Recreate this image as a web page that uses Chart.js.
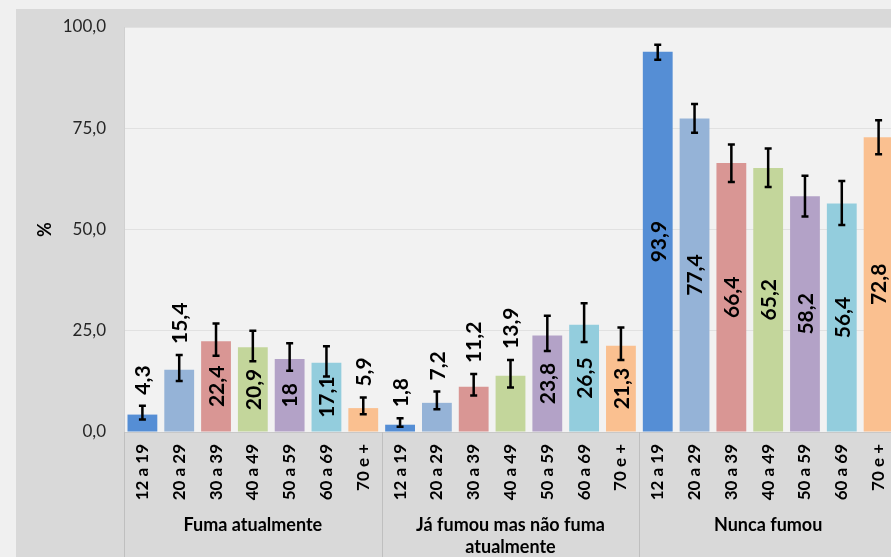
<!DOCTYPE html>
<html>
<head>
<meta charset="utf-8">
<script src="https://cdn.jsdelivr.net/npm/chart.js@4"></script>
<style>
  html, body { margin: 0; padding: 0; background: #f0f0f0; overflow: hidden; width: 891px; height: 557px; }
  #panel { position: absolute; left: 16px; top: 9px; width: 881px; height: 548px; background: #d9d9d9; }
</style>
</head>
<body>
<div id="panel"><canvas id="smokeChart" width="881" height="548"></canvas></div>
<script>
const ages = ['12 a 19', '20 a 29', '30 a 39', '40 a 49', '50 a 59', '60 a 69', '70 e +'];
const groups = ['Fuma atualmente', ['Já fumou mas não fuma', 'atualmente'], 'Nunca fumou'];
const yTicks = [0, 25, 50, 75, 100];

const fumaValues = [4.3, 15.4, 22.4, 20.9, 18, 17.1, 5.9];
const fumaLow = [3.1, 12.6, 18.8, 17.5, 15.1, 13.7, 4.4];
const fumaHigh = [6.5, 19.0, 26.8, 25.0, 21.9, 21.2, 8.5];

const jaValues = [1.8, 7.2, 11.2, 13.9, 23.8, 26.5, 21.3];
const jaLow = [1.3, 5.6, 9.0, 11.0, 20.0, 22.2, 17.8];
const jaHigh = [3.4, 10.0, 14.3, 17.8, 28.7, 31.8, 25.8];

const nuncaValues = [93.9, 77.4, 66.4, 65.2, 58.2, 56.4, 72.8];
const nuncaLow = [91.9, 73.9, 61.7, 60.5, 53.2, 51.1, 68.6];
const nuncaHigh = [95.6, 81.0, 71.0, 70.0, 63.3, 62.0, 77.0];

const ageColors = ['#558ed5', '#95b3d7', '#d99694', '#c3d69b', '#b3a2c7', '#93cddd', '#fac090'];

const labels = [].concat(ages, ages, ages);
const values = [].concat(fumaValues, jaValues, nuncaValues);
const lows = [].concat(fumaLow, jaLow, nuncaLow);
const highs = [].concat(fumaHigh, jaHigh, nuncaHigh);
const colors = [].concat(ageColors, ageColors, ageColors);

const fmt = v => String(v).replace('.', ',');

const plotBg = {
    id: 'plotBg',
    beforeDraw(chart) {
        const a = chart.chartArea, ctx = chart.ctx;
        ctx.save();
        ctx.fillStyle = '#f2f2f2';
        ctx.fillRect(a.left, a.top, a.right - a.left, a.bottom - a.top);
        ctx.restore();
    }
};

const errorBars = {
    id: 'errorBars',
    afterDatasetsDraw(chart) {
        const ctx = chart.ctx;
        const meta = chart.getDatasetMeta(0);
        const y = chart.scales.y;
        ctx.save();
        ctx.strokeStyle = '#000';
        ctx.lineWidth = 2.5;
        meta.data.forEach((bar, i) => {
            const top = y.getPixelForValue(highs[i]);
            const bot = y.getPixelForValue(lows[i]);
            ctx.beginPath();
            ctx.moveTo(bar.x, top); ctx.lineTo(bar.x, bot);
            ctx.moveTo(bar.x - 3.5, top); ctx.lineTo(bar.x + 3.5, top);
            ctx.moveTo(bar.x - 3.5, bot); ctx.lineTo(bar.x + 3.5, bot);
            ctx.stroke();
        });
        // value labels
        ctx.fillStyle = '#000';
        ctx.font = 'bold 21px Lato';
        ctx.textBaseline = 'middle';
        meta.data.forEach((bar, i) => {
            ctx.save();
            if (values[i] >= 17) {
                ctx.translate(bar.x + 1, (bar.y + bar.base) / 2);
                ctx.rotate(-Math.PI / 2);
                ctx.textAlign = 'center';
                ctx.fillText(fmt(values[i]), 0, 0);
            } else {
                ctx.translate(bar.x + 1, y.getPixelForValue(highs[i]) - 11);
                ctx.rotate(-Math.PI / 2);
                ctx.textAlign = 'left';
                ctx.fillText(fmt(values[i]), 0, 0);
            }
            ctx.restore();
        });
        ctx.restore();
    }
};

const groupAxis = {
    id: 'groupAxis',
    afterDraw(chart) {
        const ctx = chart.ctx;
        const x = chart.scales.x;
        const n = ages.length;
        const step = x.getPixelForValue(1) - x.getPixelForValue(0);
        ctx.save();
        ctx.strokeStyle = '#bfbfbf';
        ctx.lineWidth = 1;
        for (let g = 0; g <= groups.length; g++) {
            const px = Math.round(x.getPixelForValue(g * n) - step / 2) + 0.5;
            ctx.beginPath();
            ctx.moveTo(px, x.top);
            ctx.lineTo(px, x.bottom);
            ctx.stroke();
        }
        ctx.fillStyle = '#000';
        ctx.font = 'bold 18px Lato';
        ctx.textAlign = 'center';
        ctx.textBaseline = 'middle';
        groups.forEach((name, g) => {
            const cx = (x.getPixelForValue(g * n) + x.getPixelForValue(g * n + n - 1)) / 2;
            const lines = Array.isArray(name) ? name : [name];
            lines.forEach((line, k) => ctx.fillText(line, cx, x.bottom - 32 + k * 22));
        });
        ctx.restore();
    }
};

new Chart(document.getElementById('smokeChart'), {
    type: 'bar',
    data: {
        labels: labels,
        datasets: [{
            data: values,
            backgroundColor: colors,
            categoryPercentage: 1,
            barPercentage: 0.81
        }]
    },
    options: {
        responsive: false,
        animation: false,
        devicePixelRatio: 1,
        layout: { padding: { top: 18, left: 0, right: 0, bottom: 0 } },
        plugins: { legend: { display: false }, tooltip: { enabled: false } },
        scales: {
            x: {
                grid: { display: true, drawOnChartArea: false, drawTicks: true, tickLength: 12, tickColor: 'rgba(0,0,0,0)' },
                border: { color: '#c8c8c8' },
                ticks: {
                    autoSkip: false,
                    minRotation: 90,
                    maxRotation: 90,
                    padding: 0,
                    color: '#000',
                    font: { family: 'Lato', weight: 'bold', size: 17, lineHeight: 1 }
                },
                afterFit: s => { s.height = 125; }
            },
            y: {
                min: 0,
                max: 100,
                afterBuildTicks: s => { s.ticks = yTicks.map(v => ({ value: v })); },
                grid: { color: '#e1e1e1', drawTicks: true, tickLength: 18, tickColor: 'rgba(0,0,0,0)' },
                border: { color: '#d0d0d0' },
                ticks: {
                    padding: 0,
                    color: '#262626',
                    font: { family: 'Lato', size: 17 },
                    callback: v => v.toFixed(1).replace('.', ',')
                },
                title: {
                    display: true,
                    text: '%',
                    color: '#000',
                    font: { family: 'Lato', weight: 'bold', size: 18 },
                    padding: { top: 18, bottom: 0 }
                },
                afterFit: s => { s.width = 108; }
            }
        }
    },
    plugins: [plotBg, errorBars, groupAxis]
});
</script>
</body>
</html>
